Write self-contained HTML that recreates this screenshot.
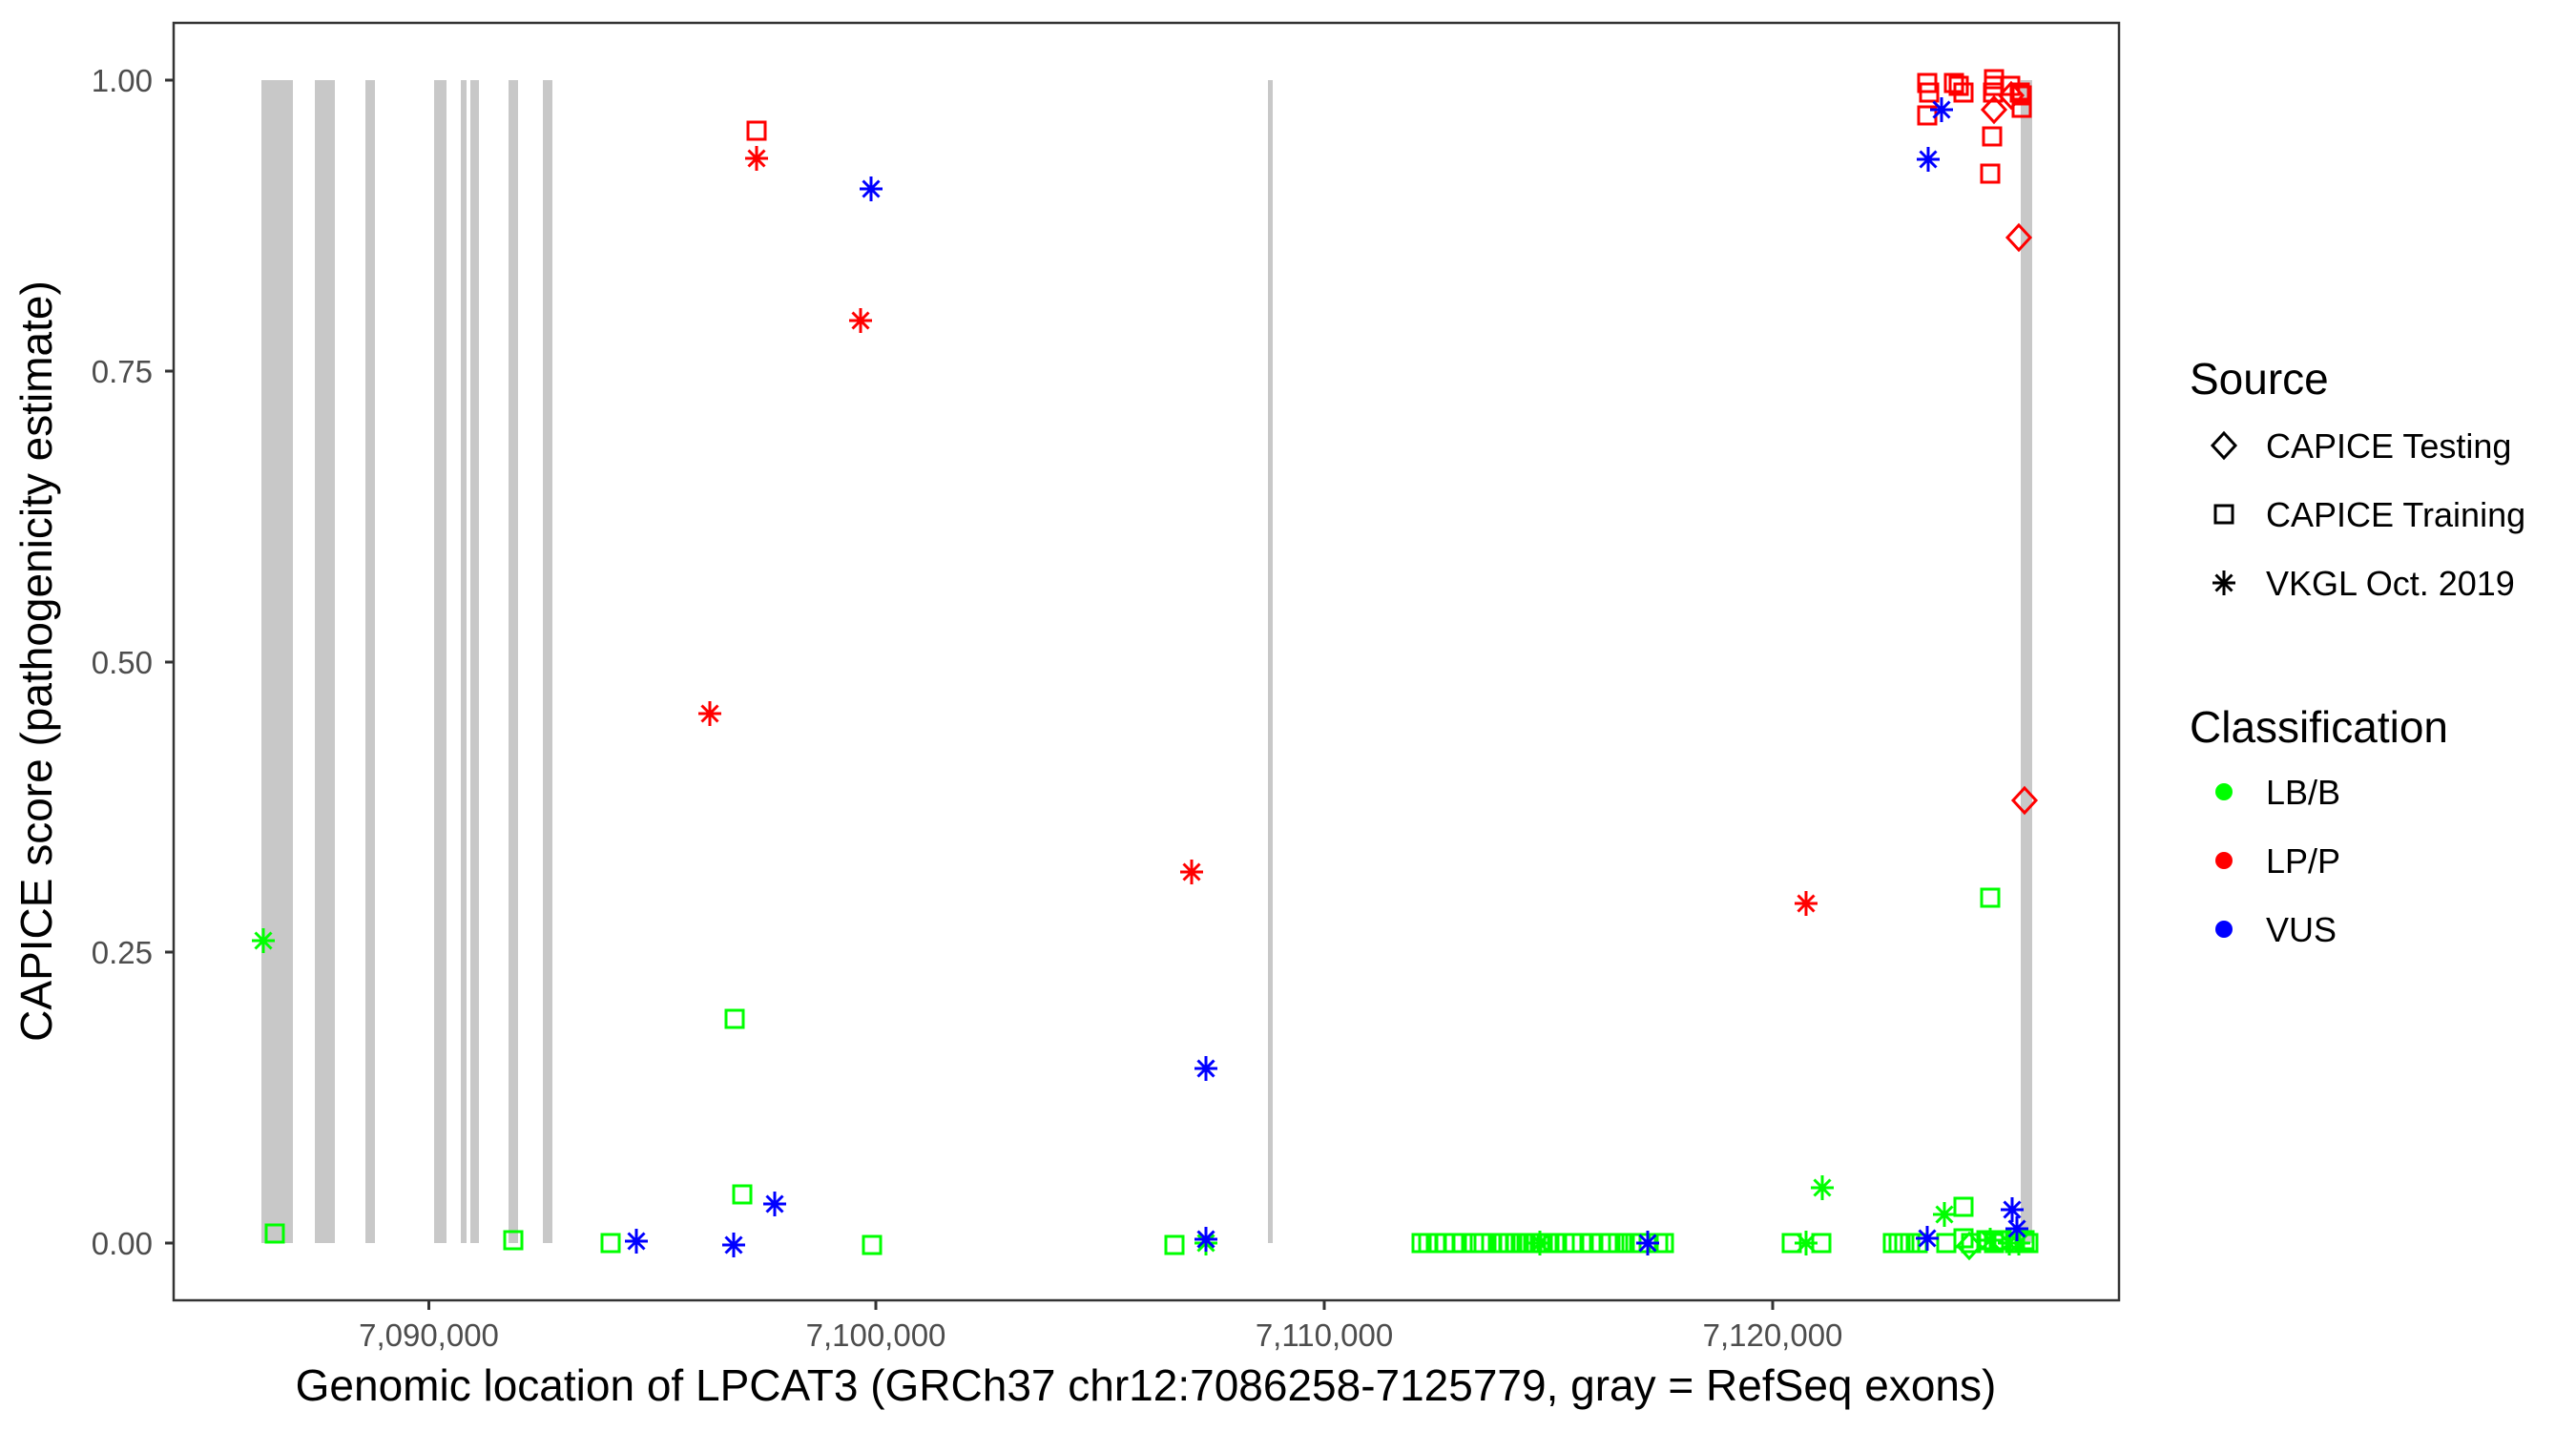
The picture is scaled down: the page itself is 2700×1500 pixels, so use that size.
<!DOCTYPE html>
<html><head><meta charset="utf-8"><style>
html,body{margin:0;padding:0;background:#fff}
svg{display:block}
text{font-family:"Liberation Sans",Arial,sans-serif}
</style></head><body>
<svg width="2700" height="1500" viewBox="0 0 2700 1500" xmlns="http://www.w3.org/2000/svg">
<defs>
<rect id="sq" x="-9" y="-9" width="18" height="18" fill="none" stroke-width="3"/>
<path id="as" d="M-12,0H12M0,-13V13M-8.5,-8.5L8.5,8.5M-8.5,8.5L8.5,-8.5" fill="none" stroke-width="3"/>
<path id="di" d="M0,-13L12,0L0,13L-12,0Z" fill="none" stroke-width="3"/>
</defs>
<rect width="2700" height="1500" fill="#fff"/>
<g fill="#C8C8C8">
<rect x="274" y="84" width="33" height="1219"/>
<rect x="330" y="84" width="21" height="1219"/>
<rect x="383" y="84" width="10" height="1219"/>
<rect x="455" y="84" width="13" height="1219"/>
<rect x="483" y="84" width="6" height="1219"/>
<rect x="493" y="84" width="9" height="1219"/>
<rect x="533" y="84" width="10" height="1219"/>
<rect x="569" y="84" width="10" height="1219"/>
<rect x="1329" y="84" width="5" height="1219"/>
<rect x="2118" y="84" width="12" height="1219"/>
</g>
<g stroke="#00FF00">
<use href="#sq" x="288" y="1293"/><use href="#sq" x="538" y="1300"/><use href="#sq" x="640" y="1303"/>
<use href="#sq" x="770" y="1068"/><use href="#sq" x="778" y="1252"/><use href="#sq" x="914" y="1305"/>
<use href="#sq" x="1231" y="1305"/><use href="#sq" x="2086" y="941"/><use href="#sq" x="1878" y="1303"/>
<use href="#sq" x="1909" y="1303"/><use href="#sq" x="2058" y="1265"/>
<use href="#sq" x="1490" y="1303"/><use href="#sq" x="1497" y="1303"/><use href="#sq" x="1505" y="1303"/><use href="#sq" x="1514" y="1303"/><use href="#sq" x="1524" y="1303"/><use href="#sq" x="1533" y="1303"/><use href="#sq" x="1545" y="1303"/><use href="#sq" x="1555" y="1303"/><use href="#sq" x="1563" y="1303"/><use href="#sq" x="1570" y="1303"/><use href="#sq" x="1576" y="1303"/><use href="#sq" x="1582" y="1303"/><use href="#sq" x="1589" y="1303"/><use href="#sq" x="1596" y="1303"/><use href="#sq" x="1603" y="1303"/><use href="#sq" x="1610" y="1303"/><use href="#sq" x="1617" y="1303"/><use href="#sq" x="1624" y="1303"/><use href="#sq" x="1632" y="1303"/><use href="#sq" x="1640" y="1303"/><use href="#sq" x="1648" y="1303"/><use href="#sq" x="1658" y="1303"/><use href="#sq" x="1668" y="1303"/><use href="#sq" x="1678" y="1303"/><use href="#sq" x="1688" y="1303"/><use href="#sq" x="1696" y="1303"/><use href="#sq" x="1703" y="1303"/><use href="#sq" x="1710" y="1303"/><use href="#sq" x="1718" y="1303"/><use href="#sq" x="1728" y="1303"/><use href="#sq" x="1738" y="1303"/><use href="#sq" x="1744" y="1303"/>
<use href="#sq" x="1984" y="1303"/><use href="#sq" x="1990" y="1303"/><use href="#sq" x="1996" y="1303"/><use href="#sq" x="2002" y="1303"/><use href="#sq" x="2010" y="1303"/><use href="#sq" x="2040" y="1303"/><use href="#sq" x="2058" y="1298"/><use href="#sq" x="2066" y="1303"/><use href="#sq" x="2082" y="1300"/><use href="#sq" x="2090" y="1303"/><use href="#sq" x="2098" y="1300"/><use href="#sq" x="2112" y="1303"/><use href="#sq" x="2122" y="1300"/><use href="#sq" x="2126" y="1303"/>
<use href="#as" x="276" y="986"/><use href="#as" x="1910" y="1245"/><use href="#as" x="1893" y="1303"/>
<use href="#as" x="2038" y="1273"/><use href="#as" x="1264" y="1303"/><use href="#as" x="1614" y="1303"/>
<use href="#as" x="2086" y="1300"/><use href="#as" x="2106" y="1303"/><use href="#as" x="2116" y="1303"/>
<use href="#di" x="2064" y="1306"/>
</g>
<g stroke="#FF0000">
<use href="#as" x="793" y="166"/><use href="#as" x="902" y="336"/><use href="#as" x="744" y="748"/>
<use href="#as" x="1249" y="914"/><use href="#as" x="1893" y="947"/>
<use href="#sq" x="793" y="137"/>
<use href="#sq" x="2020" y="87"/><use href="#sq" x="2022" y="97"/><use href="#sq" x="2048" y="87"/><use href="#sq" x="2053" y="90"/><use href="#sq" x="2058" y="97"/><use href="#sq" x="2090" y="83"/><use href="#sq" x="2090" y="90"/><use href="#sq" x="2089" y="97"/><use href="#sq" x="2107" y="90"/><use href="#sq" x="2117" y="97"/><use href="#sq" x="2119" y="100"/><use href="#sq" x="2119" y="113"/>
<use href="#sq" x="2020" y="121"/><use href="#sq" x="2088" y="143"/><use href="#sq" x="2086" y="182"/>
<use href="#di" x="2090" y="115"/><use href="#di" x="2116" y="249"/><use href="#di" x="2122" y="839"/><use href="#di" x="2108" y="100"/>
</g>
<g stroke="#0000FF">
<use href="#as" x="913" y="198"/><use href="#as" x="1264" y="1120"/><use href="#as" x="812" y="1262"/>
<use href="#as" x="667" y="1301"/><use href="#as" x="769" y="1305"/><use href="#as" x="1264" y="1299"/>
<use href="#as" x="1727" y="1303"/><use href="#as" x="2035" y="115"/><use href="#as" x="2021" y="167"/>
<use href="#as" x="2109" y="1268"/><use href="#as" x="2020" y="1298"/><use href="#as" x="2114" y="1288"/>
</g>
<rect x="182" y="24" width="2039" height="1339" fill="none" stroke="#333" stroke-width="2.5"/>
<g stroke="#333" stroke-width="3">
<line x1="173" y1="84" x2="182" y2="84"/><line x1="173" y1="389" x2="182" y2="389"/>
<line x1="173" y1="694" x2="182" y2="694"/><line x1="173" y1="998" x2="182" y2="998"/>
<line x1="173" y1="1303" x2="182" y2="1303"/>
<line x1="449.5" y1="1363" x2="449.5" y2="1373"/><line x1="918" y1="1363" x2="918" y2="1373"/>
<line x1="1388" y1="1363" x2="1388" y2="1373"/><line x1="1858" y1="1363" x2="1858" y2="1373"/>
</g>
<g fill="#4D4D4D" font-size="33" text-anchor="end">
<text x="160" y="96">1.00</text><text x="160" y="401">0.75</text><text x="160" y="706">0.50</text>
<text x="160" y="1010">0.25</text><text x="160" y="1315">0.00</text>
</g>
<g fill="#4D4D4D" font-size="33" text-anchor="middle">
<text x="449.5" y="1411">7,090,000</text><text x="918" y="1411">7,100,000</text>
<text x="1388" y="1411">7,110,000</text><text x="1858" y="1411">7,120,000</text>
</g>
<text x="1201" y="1468" font-size="46" text-anchor="middle" fill="#000">Genomic location of LPCAT3 (GRCh37 chr12:7086258-7125779, gray = RefSeq exons)</text>
<text transform="translate(54,693) rotate(-90)" font-size="46" text-anchor="middle" fill="#000">CAPICE score (pathogenicity estimate)</text>
<text x="2295" y="413" font-size="46" fill="#000">Source</text>
<g stroke="#000">
<use href="#di" x="2331" y="467"/>
<use href="#sq" x="2331" y="539"/>
<use href="#as" x="2331" y="611"/>
</g>
<g font-size="36" fill="#000">
<text x="2375" y="480">CAPICE Testing</text>
<text x="2375" y="552">CAPICE Training</text>
<text x="2375" y="624">VKGL Oct. 2019</text>
</g>
<text x="2295" y="778" font-size="46" fill="#000">Classification</text>
<circle cx="2331" cy="830" r="9" fill="#00FF00"/>
<circle cx="2331" cy="902" r="9" fill="#FF0000"/>
<circle cx="2331" cy="974" r="9" fill="#0000FF"/>
<g font-size="36" fill="#000">
<text x="2375" y="843">LB/B</text>
<text x="2375" y="915">LP/P</text>
<text x="2375" y="987">VUS</text>
</g>
</svg>
</body></html>
